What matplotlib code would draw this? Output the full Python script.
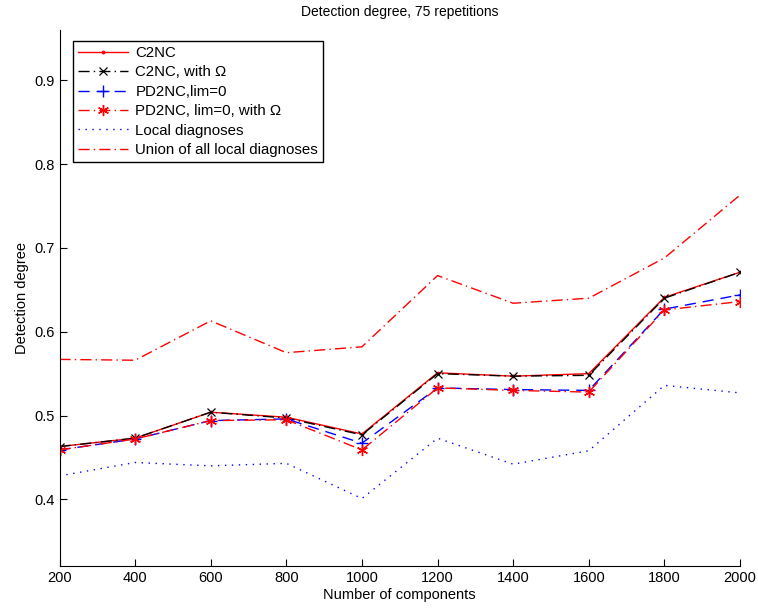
import matplotlib
matplotlib.use("Agg")
import matplotlib.pyplot as plt

plt.rcParams['font.family'] = ['Liberation Sans', 'DejaVu Sans']
plt.rcParams['mathtext.fontset'] = 'custom'
plt.rcParams['mathtext.rm'] = 'Liberation Sans'

components = [200, 400, 600, 800, 1000, 1200, 1400, 1600, 1800, 2000]
c2nc = [0.463, 0.473, 0.504, 0.498, 0.478, 0.551, 0.547, 0.550, 0.641, 0.671]
c2nc_omega = [0.463, 0.473, 0.504, 0.497, 0.477, 0.550, 0.547, 0.548, 0.640, 0.671]
pd2nc = [0.459, 0.472, 0.494, 0.496, 0.467, 0.533, 0.531, 0.530, 0.627, 0.644]
pd2nc_omega = [0.459, 0.472, 0.494, 0.495, 0.459, 0.533, 0.530, 0.528, 0.626, 0.636]
local_diag = [0.428, 0.444, 0.440, 0.443, 0.401, 0.473, 0.442, 0.458, 0.536, 0.527]
union_diag = [0.567, 0.566, 0.613, 0.575, 0.582, 0.667, 0.634, 0.640, 0.688, 0.763]

labels = ['C2NC', 'C2NC, with \u03A9', 'PD2NC,lim=0', 'PD2NC, lim=0, with \u03A9',
          'Local diagnoses', 'Union of all local diagnoses']

fig = plt.figure(figsize=(7.58, 6.10), dpi=100)
ax = fig.add_axes([59.5/758, 1-566/610, 680.5/758, 536/610])

asterisk = (6, 2, 0)

ax.plot(components, c2nc, color='red', linestyle='-', marker='.', markersize=3.5, lw=1, label=labels[0])
ax.plot(components, c2nc_omega, color='black', linestyle='-.', marker='x', markersize=6, lw=1,
        markeredgewidth=0.9, dashes=(8, 3, 1, 3), label=labels[1])
ax.plot(components, pd2nc, color='blue', linestyle='--', marker='+', markersize=9, lw=1,
        markeredgewidth=1, dashes=(8, 5), label=labels[2])
ax.plot(components, pd2nc_omega, color='red', linestyle='-.', marker=asterisk, markersize=8, lw=1,
        markeredgewidth=1, dashes=(8, 3, 1, 3), label=labels[3])
ax.plot(components, local_diag, color='blue', linestyle=':', lw=1, dashes=(1, 4), label=labels[4])
ax.plot(components, union_diag, color='red', linestyle='-.', lw=1, dashes=(8, 3, 1, 3), label=labels[5])

ax.set_xlim(200, 2000)
ax.set_ylim(0.3205, 0.96)
ax.set_xticks(components)
ax.set_yticks([0.4, 0.5, 0.6, 0.7, 0.8, 0.9])
ax.set_yticklabels(['0.4', '0.5', '0.6', '0.7', '0.8', '0.9'])
ax.tick_params(direction='in', length=5, labelsize=10.5, top=False, right=False)
ax.spines['top'].set_visible(False)
ax.spines['right'].set_visible(False)

ax.set_xlabel('Number of components', fontsize=10.5, labelpad=2)
ax.set_ylabel('Detection degree', fontsize=10.5)
ax.set_title('Detection degree, 75 repetitions', fontsize=10, pad=10)

leg = ax.legend(loc='upper left', bbox_to_anchor=(0.02, 0.98), borderaxespad=0,
                fontsize=10.8, frameon=True, fancybox=False, framealpha=1,
                edgecolor='black', handlelength=3.3, labelspacing=0.36,
                borderpad=0.35, handletextpad=0.5)
leg.get_frame().set_linewidth(1)

fig.savefig('out.png', dpi=100)
